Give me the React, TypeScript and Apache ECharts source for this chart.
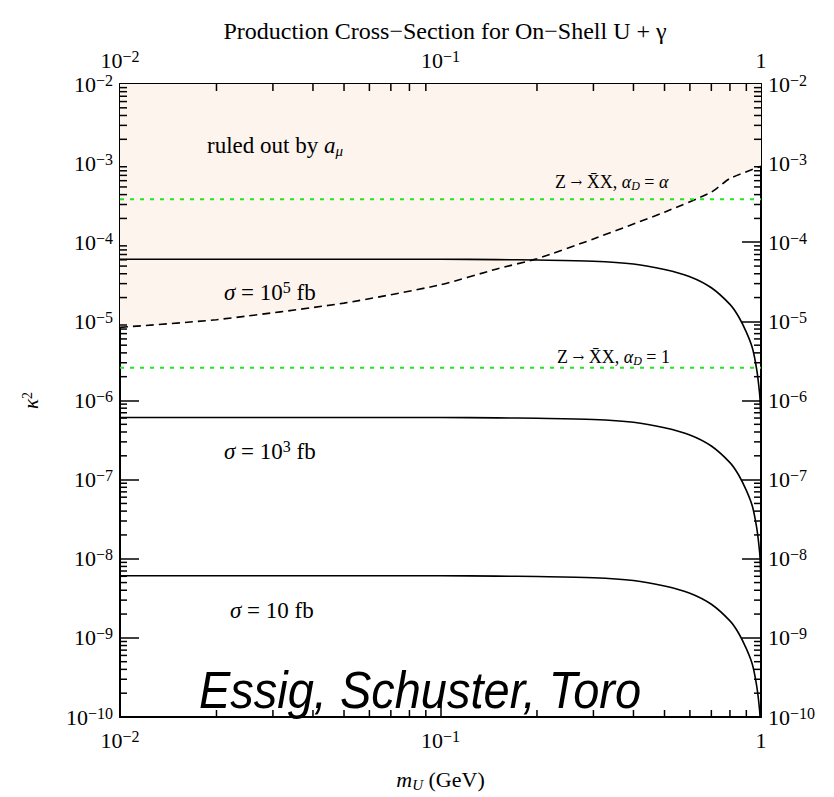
import React, { useEffect, useRef } from "react";
import * as echarts from "echarts";

// ---- data ----
const massGeV = [0.01, 0.02, 0.05, 0.1, 0.15, 0.2, 0.3, 0.4, 0.5, 0.6, 0.7, 0.8, 0.85, 0.9, 0.94, 0.97, 0.99, 0.995, 0.999];
const sigma1e5fb = [6.1e-5, 6.1e-5, 6.1e-5, 6.1e-5, 6.03e-5, 5.96e-5, 5.76e-5, 5.31e-5, 4.52e-5, 3.67e-5, 2.66e-5, 1.64e-5, 1.16e-5, 7.3e-6, 4.6e-6, 2.43e-6, 1.22e-6, 8.6e-7, 5.4e-7];
const sigma1e3fb = [6.1e-7, 6.1e-7, 6.1e-7, 6.1e-7, 6.03e-7, 5.96e-7, 5.76e-7, 5.31e-7, 4.52e-7, 3.67e-7, 2.66e-7, 1.64e-7, 1.16e-7, 7.3e-8, 4.6e-8, 2.43e-8, 1.22e-8, 8.6e-9, 5.4e-9];
const sigma10fb = [6.1e-9, 6.1e-9, 6.1e-9, 6.1e-9, 6.03e-9, 5.96e-9, 5.76e-9, 5.31e-9, 4.52e-9, 3.67e-9, 2.66e-9, 1.64e-9, 1.16e-9, 7.3e-10, 4.6e-10, 2.43e-10, 1.22e-10, 8.6e-11, 5.4e-11];
const amuMass = [0.01, 0.02, 0.05, 0.1, 0.15, 0.2, 0.3, 0.5, 0.7, 0.8, 1.0];
const amuKappa2 = [8.4e-6, 1.05e-5, 1.7e-5, 2.9e-5, 4.6e-5, 6.2e-5, 1.1e-4, 2.4e-4, 4.3e-4, 6.4e-4, 9.1e-4];
const zLineMass = [0.01, 1.0];
const zAlphaKappa2 = [3.5e-4, 3.5e-4];
const zOneKappa2 = [2.6e-6, 2.6e-6];

const X_MIN = 0.01, X_MAX = 1;
const Y_MIN = 1e-10, Y_MAX = 1e-2;
const yDecades = [-10, -9, -8, -7, -6, -5, -4, -3];
const xDecades = [-2, -1];
const minorMultipliers = [2, 3, 4, 5, 6, 7, 8, 9];

const serif = "'Liberation Serif', 'Times New Roman', serif";
const sans = "'Liberation Sans', Arial, sans-serif";

const pair = (xs: number[], ys: number[]) => xs.map((x, i) => [x, ys[i]]);

const powLabel = (v: number) => {
  const e = Math.round(Math.log10(v));
  if (e === 0) return "{b|1}";
  return `{b|10}{s|\u2212${Math.abs(e)}}`;
};

const labelRich = {
  b: { fontFamily: serif, fontSize: 22, lineHeight: 24, color: "#000" },
  s: { fontFamily: serif, fontSize: 16, lineHeight: 6, verticalAlign: "top", color: "#000" },
};

export default function App() {
  const ref = useRef<HTMLDivElement>(null);
  useEffect(() => {
    if (!ref.current) return;
    const chart = echarts.init(ref.current, undefined, { renderer: "svg" });

    const tickData: number[][] = [];
    yDecades.forEach((d) => minorMultipliers.forEach((k) => tickData.push([X_MIN, k * Math.pow(10, d), 0])));
    xDecades.forEach((d) => minorMultipliers.forEach((k) => tickData.push([k * Math.pow(10, d), Y_MIN, 1])));

    const axisLineStyle = { color: "#000", width: 2 };
    const majorTick = { show: true, inside: true, length: 19, lineStyle: { color: "#000", width: 1.5 } };

    const xBase = {
      type: "log",
      logBase: 10,
      min: X_MIN,
      max: X_MAX,
      splitNumber: 2,
      splitLine: { show: false },
      axisLine: { show: true, lineStyle: axisLineStyle },
      axisTick: majorTick,
      minorTick: { show: false },
    };
    const yBase = {
      type: "log",
      logBase: 10,
      min: Y_MIN,
      max: Y_MAX,
      splitNumber: 8,
      splitLine: { show: false },
      axisLine: { show: true, lineStyle: axisLineStyle },
      axisTick: majorTick,
      minorTick: { show: false },
      axisLabel: {
        formatter: powLabel,
        rich: labelRich,
        margin: 7,
        showMinLabel: true,
        showMaxLabel: true,
      },
    };

    const solid = { color: "#000", width: 1.6, type: "solid" };

    chart.setOption({
      animation: false,
      backgroundColor: "#fff",
      title: {
        text: "Production Cross\u2212Section for On\u2212Shell U + \u03b3",
        left: 440,
        top: 14,
        textAlign: "center",
        textStyle: { fontFamily: serif, fontSize: 24, fontWeight: "normal", color: "#000" },
      },
      grid: { left: 120, right: 73, top: 84, bottom: 73, containLabel: false },
      xAxis: [
        {
          ...xBase,
          position: "bottom",
          axisLabel: { formatter: powLabel, rich: labelRich, margin: 11, showMinLabel: true, showMaxLabel: true },
          name: "{i|m}{u|U}{n| (GeV)}",
          nameLocation: "middle",
          nameGap: 49,
          nameTextStyle: {
            rich: {
              i: { fontFamily: serif, fontStyle: "italic", fontSize: 22, lineHeight: 26, color: "#000" },
              u: { fontFamily: serif, fontStyle: "italic", fontSize: 15, lineHeight: 16, verticalAlign: "bottom", color: "#000" },
              n: { fontFamily: serif, fontSize: 22, lineHeight: 26, color: "#000" },
            },
          },
        },
        {
          ...xBase,
          position: "top",
          axisLabel: { formatter: powLabel, rich: labelRich, margin: 12, showMinLabel: true, showMaxLabel: true },
        },
      ],
      yAxis: [
        {
          ...yBase,
          position: "left",
          name: "{i|\u03ba}{s|2}",
          nameLocation: "middle",
          nameRotate: 90,
          nameGap: 78,
          nameTextStyle: {
            rich: {
              i: { fontFamily: serif, fontStyle: "italic", fontSize: 21, lineHeight: 22, color: "#000" },
              s: { fontFamily: serif, fontSize: 14, lineHeight: 8, verticalAlign: "top", color: "#000" },
            },
          },
        },
        { ...yBase, position: "right" },
      ],
      series: [
        {
          name: "ruled out by a_mu",
          type: "line",
          data: pair(amuMass, amuKappa2),
          showSymbol: false,
          symbol: "none",
          smooth: 0.2,
          lineStyle: { color: "#000", width: 1.6, type: [8, 5] },
          areaStyle: { color: "#fdf4ed", opacity: 1, origin: "end" },
          z: 1,
        },
        {
          name: "Z alpha_D = alpha",
          type: "line",
          data: pair(zLineMass, zAlphaKappa2),
          symbol: "none",
          lineStyle: { color: "#22e622", width: 2, type: [4, 6] },
          z: 2,
        },
        {
          name: "Z alpha_D = 1",
          type: "line",
          data: pair(zLineMass, zOneKappa2),
          symbol: "none",
          lineStyle: { color: "#22e622", width: 2, type: [4, 6] },
          z: 2,
        },
        { name: "sigma 1e5 fb", type: "line", data: pair(massGeV, sigma1e5fb), symbol: "none", smooth: 0.3, lineStyle: solid, z: 3 },
        { name: "sigma 1e3 fb", type: "line", data: pair(massGeV, sigma1e3fb), symbol: "none", smooth: 0.3, lineStyle: solid, z: 3 },
        { name: "sigma 10 fb", type: "line", data: pair(massGeV, sigma10fb), symbol: "none", smooth: 0.3, lineStyle: solid, z: 3 },
        {
          name: "minor ticks",
          type: "custom",
          data: tickData,
          encode: { x: 0, y: 1 },
          clip: false,
          silent: true,
          z: 5,
          renderItem: (params: any, api: any) => {
            const kind = api.value(2);
            const st = { stroke: "#000", lineWidth: 1.5 };
            const L = 7;
            if (kind === 0) {
              const v = api.value(1);
              const a = api.coord([X_MIN, v]);
              const b = api.coord([X_MAX, v]);
              return {
                type: "group",
                children: [
                  { type: "line", shape: { x1: a[0], y1: a[1], x2: a[0] + L, y2: a[1] }, style: st },
                  { type: "line", shape: { x1: b[0] - L, y1: b[1], x2: b[0], y2: b[1] }, style: st },
                ],
              };
            }
            const v = api.value(0);
            const a = api.coord([v, Y_MIN]);
            const b = api.coord([v, Y_MAX]);
            return {
              type: "group",
              children: [
                { type: "line", shape: { x1: a[0], y1: a[1], x2: a[0], y2: a[1] - L }, style: st },
                { type: "line", shape: { x1: b[0], y1: b[1], x2: b[0], y2: b[1] + L }, style: st },
              ],
            };
          },
        },
      ],
      graphic: [
        {
          type: "text",
          x: 207,
          y: 145,
          style: {
            text: "{n|ruled out by }{i|a}{u|\u03bc}",
            verticalAlign: "middle",
            textVerticalAlign: "middle",
            rich: {
              n: { fontFamily: serif, fontSize: 23, lineHeight: 26, fill: "#000" },
              i: { fontFamily: serif, fontStyle: "italic", fontSize: 23, lineHeight: 26, fill: "#000" },
              u: { fontFamily: serif, fontStyle: "italic", fontSize: 15, lineHeight: 14, verticalAlign: "bottom", fill: "#000" },
            },
          },
          z: 10,
        },
        ...[
          { y: 292, exp: "5", x: 224 },
          { y: 451, exp: "3", x: 224 },
          { y: 610, exp: "", x: 230 },
        ].map((t) => ({
          type: "text",
          x: t.x,
          y: t.y,
          style: {
            text: `{i|\u03c3}{n| = 10}${t.exp ? `{s|${t.exp}}` : ""}{n| fb}`,
            verticalAlign: "middle",
            textVerticalAlign: "middle",
            rich: {
              n: { fontFamily: serif, fontSize: 23, lineHeight: 26, fill: "#000" },
              i: { fontFamily: serif, fontStyle: "italic", fontSize: 23, lineHeight: 26, fill: "#000" },
              s: { fontFamily: serif, fontSize: 16, lineHeight: 6, verticalAlign: "top", fill: "#000" },
            },
          },
          z: 10,
        })),
        ...[
          { x: 555, y: 182, rhs: "{i|\u03b1}" },
          { x: 557, y: 357, rhs: "{n|1}" },
        ].map((t) => ({
          type: "text",
          x: t.x,
          y: t.y,
          style: {
            text: `{n|Z }{a|\u2192}{n| X\u0304X, }{i|\u03b1}{u|D}{n| = }${t.rhs}`,
            verticalAlign: "middle",
            textVerticalAlign: "middle",
            rich: {
              n: { fontFamily: serif, fontSize: 18, lineHeight: 20, fill: "#000" },
              a: { fontFamily: "'DejaVu Serif', serif", fontSize: 14, lineHeight: 20, fill: "#000" },
              i: { fontFamily: serif, fontStyle: "italic", fontSize: 18, lineHeight: 20, fill: "#000" },
              u: { fontFamily: serif, fontStyle: "italic", fontSize: 12, lineHeight: 12, verticalAlign: "bottom", fill: "#000" },
            },
          },
          z: 10,
        })),
        {
          type: "text",
          x: 420,
          y: 690,
          scaleY: 1.12,
          style: {
            text: "Essig, Schuster, Toro",
            font: `italic 47px ${sans}`,
            fill: "#000",
            align: "center",
            textAlign: "center",
            verticalAlign: "middle",
            textVerticalAlign: "middle",
          },
          z: 10,
        },
      ],
    });
    return () => chart.dispose();
  }, []);
  return <div ref={ref} style={{ position: "absolute", left: 0, top: 0, width: 834, height: 797 }} />;
}
